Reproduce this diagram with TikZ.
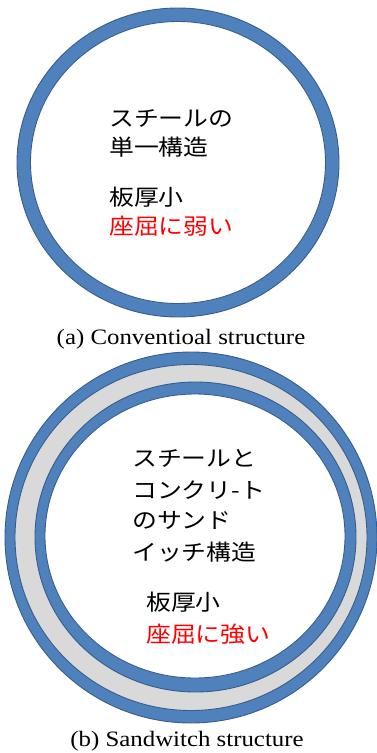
\documentclass[tikz,border=0pt]{standalone}
\usepackage{fontspec}
\setmainfont{Liberation Serif}
\newfontfamily\jpfont{Noto Sans CJK JP}
\definecolor{ringblue}{HTML}{4F81BD}
\definecolor{ringedge}{HTML}{385D8A}
\definecolor{coregray}{HTML}{D9D9D9}
\definecolor{warnred}{HTML}{FF0000}
\begin{document}
\begin{tikzpicture}[x=1pt,y=-1pt,
  ringfill/.style={fill=ringblue,draw=ringedge,line width=0.9pt},
  whitefill/.style={fill=white,draw=ringedge,line width=0.9pt},
  grayfill/.style={fill=coregray,draw=ringedge,line width=0.9pt},
  jtext/.style={anchor=west,inner sep=0pt,font=\jpfont\fontsize{22}{26}\selectfont,xscale=1.13,transform shape},
  captext/.style={anchor=center,inner sep=0pt,font=\fontsize{22}{26}\selectfont,xscale=1.13,transform shape}]
\useasboundingbox (0,0) rectangle (376,753);
% (a) single steel ring
\path[ringfill] (178,162.5) ellipse [x radius=161pt, y radius=154.5pt];
\path[whitefill] (178,162.5) ellipse [x radius=147.5pt, y radius=141pt];
\node[jtext] (a1) at (109,118) {スチールの};
\node[jtext] (a2) at (109,147) {単一構造};
\node[jtext] (a3) at (109,197) {板厚小};
\node[jtext,text=warnred] (a4) at (109,226) {座屈に弱い};
\node[captext] (capa) at (181,339) {(a) Conventioal structure};
% (b) sandwich ring
\path[ringfill] (191,537.5) ellipse [x radius=186pt, y radius=185.5pt];
\path[grayfill] (191,537.5) ellipse [x radius=176pt, y radius=173pt];
\path[ringfill] (195.5,537) ellipse [x radius=160.5pt, y radius=155pt];
\path[whitefill] (195,536) ellipse [x radius=150pt, y radius=142pt];
\node[jtext] (b1) at (132,458) {スチールと};
\node[jtext] (b2) at (132,490) {コンクリ-ト};
\node[jtext] (b3) at (132,520) {のサンド};
\node[jtext] (b4) at (132,552) {イッチ構造};
\node[jtext] (b5) at (146,602) {板厚小};
\node[jtext,text=warnred] (b6) at (146,634) {座屈に強い};
\node[captext] (capb) at (187,741) {(b) Sandwitch structure};
\end{tikzpicture}
\end{document}
